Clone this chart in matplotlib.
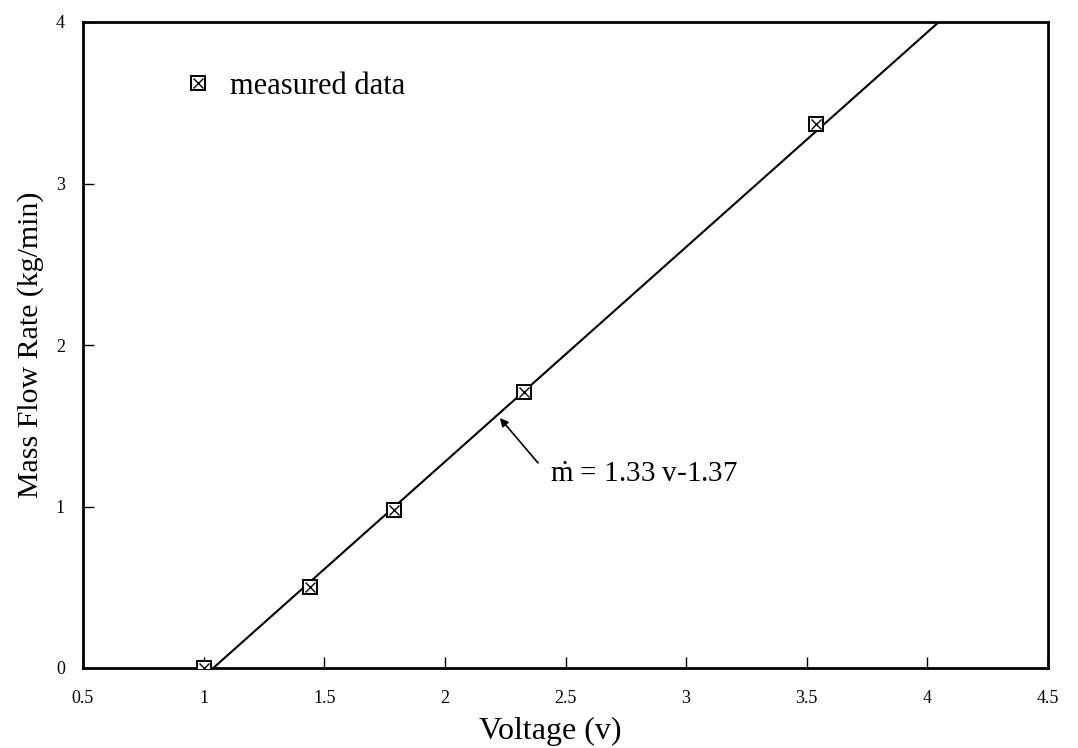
import matplotlib
matplotlib.use('Agg')
import matplotlib.pyplot as plt
from matplotlib.lines import Line2D

plt.rcParams['font.family'] = ['Liberation Serif', 'DejaVu Serif']
plt.rcParams['mathtext.fontset'] = 'custom'
plt.rcParams['mathtext.rm'] = 'Liberation Serif'

# measured points
volt = [1.0, 1.44, 1.79, 2.33, 3.54]
flow = [0.0, 0.50, 0.98, 1.71, 3.37]

# fitted line end points
fit_x = [1.04, 4.04]
fit_y = [0.0, 3.99]

xticks = [0.5, 1, 1.5, 2, 2.5, 3, 3.5, 4, 4.5]
xtick_labels = ['0.5', '1', '1.5', '2', '2.5', '3', '3.5', '4', '4.5']
yticks = [0, 1, 2, 3, 4]
ytick_labels = ['0', '1', '2', '3', '4']

fig = plt.figure(figsize=(10.78, 7.48), dpi=100)
ax = fig.add_axes([83/1078, 1-668/748, 965/1078, 646/748])

ax.plot(fit_x, fit_y, color='black', lw=1.5, zorder=2)
ax.plot(volt, flow, ls='none', marker='s', ms=9.5, mfc='white', mec='black', mew=1.4, zorder=3)
ax.plot(volt, flow, ls='none', marker='x', ms=6.5, mec='black', mew=1.0, zorder=4)

ax.set_xlim(0.5, 4.5)
ax.set_ylim(0, 4)
ax.set_xticks(xticks)
ax.set_xticklabels(xtick_labels)
ax.set_yticks(yticks)
ax.set_yticklabels(ytick_labels)
ax.tick_params(direction='in', length=8, width=1, labelsize=13, color='black')
ax.tick_params(axis='x', pad=16)
ax.tick_params(axis='y', pad=13)
for s in ax.spines.values():
	s.set_linewidth(2)

ax.set_xlabel('Voltage (v)', fontsize=23)
ax.xaxis.set_label_coords(0.484, -0.076)
ax.set_ylabel('Mass Flow Rate (kg/min)', fontsize=21.5)
ax.yaxis.set_label_coords(-0.04, 0.5)

# legend
sq = Line2D([], [], ls='none', marker='s', ms=9.5, mfc='white', mec='black', mew=1.4)
xx = Line2D([], [], ls='none', marker='x', ms=6.5, mec='black', mew=1.0)
ax.legend([(sq, xx)], ['measured data'], loc='upper left', bbox_to_anchor=(0.075, 0.965),
	frameon=False, fontsize=22, handletextpad=0.55, handlelength=1.0)

# fit annotation
ax.annotate('', xy=(2.228, 1.548), xytext=(2.386, 1.27),
	arrowprops=dict(arrowstyle='-|>', color='black', lw=1.2, shrinkA=0, shrinkB=0, mutation_scale=12))
ax.text(2.436, 1.195, r'$\dot{\mathrm{m}}$ = 1.33 v-1.37', fontsize=21, ha='left', va='center')

fig.savefig('out.png', dpi=100)
